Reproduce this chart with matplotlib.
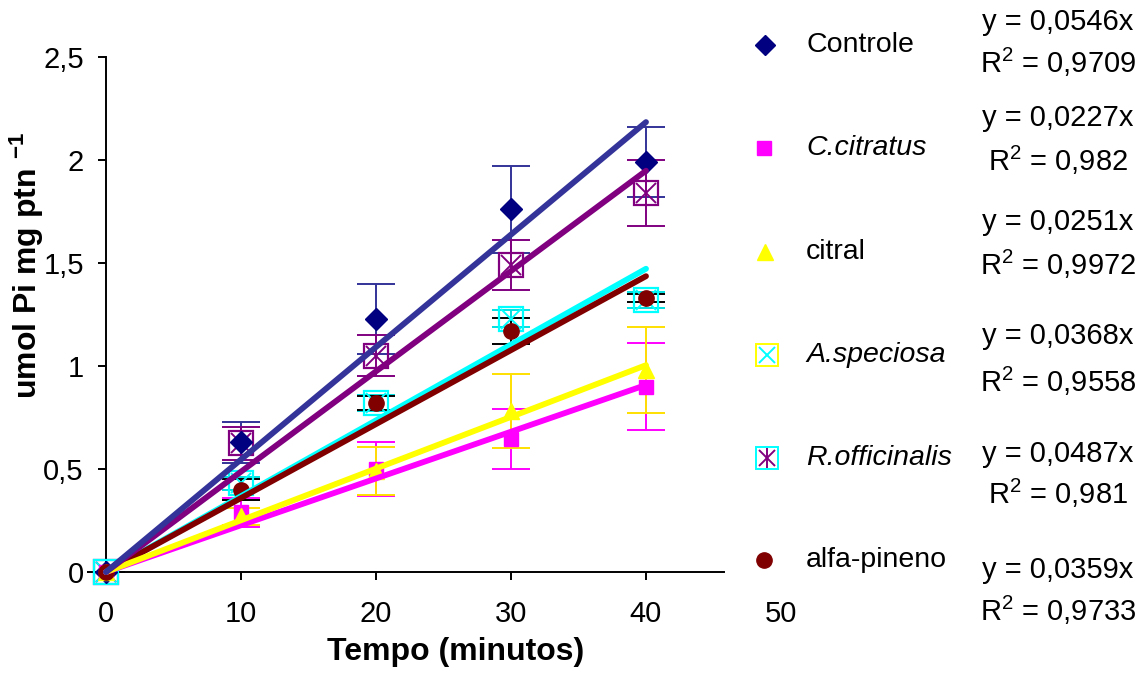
import numpy as np
import matplotlib
matplotlib.use("Agg")
import matplotlib.pyplot as plt

plt.rcParams["font.family"] = ["Liberation Sans", "DejaVu Sans"]
plt.rcParams["mathtext.fontset"] = "custom"
plt.rcParams["mathtext.rm"] = "Liberation Sans"
plt.rcParams["mathtext.it"] = "Liberation Sans:italic"
plt.rcParams["mathtext.bf"] = "Liberation Sans:bold"

# ---- data ----
tempo = [0, 10, 20, 30, 40]
names = ["Controle", "C.citratus", "citral", "A.speciosa", "R.officinalis", "alfa-pineno"]
italic = [False, True, False, True, True, False]
controle = [0, 0.63, 1.23, 1.76, 1.99]
controle_err = [0, 0.10, 0.17, 0.21, 0.17]
citratus = [0, 0.29, 0.50, 0.645, 0.90]
citratus_err = [0, 0.07, 0.13, 0.145, 0.21]
citral = [0, 0.27, 0.49, 0.78, 0.98]
citral_err = [0, 0.04, 0.115, 0.18, 0.21]
speciosa = [0, 0.43, 0.82, 1.23, 1.32]
speciosa_err = [0, 0.03, 0.04, 0.04, 0.04]
officinalis = [0, 0.625, 1.05, 1.49, 1.84]
officinalis_err = [0, 0.08, 0.10, 0.12, 0.16]
pineno = [0, 0.40, 0.82, 1.17, 1.33]
pineno_err = [0, 0.05, 0.035, 0.065, 0.02]
slopes = [0.0546, 0.0227, 0.0251, 0.0368, 0.0487, 0.0359]
slope_txt = ["0,0546", "0,0227", "0,0251", "0,0368", "0,0487", "0,0359"]
r2_txt = ["0,9709", "0,982", "0,9972", "0,9558", "0,981", "0,9733"]
yticks = [0, 0.5, 1, 1.5, 2, 2.5]
ytick_labels = ["0", "0,5", "1", "1,5", "2", "2,5"]
xticks = [0, 10, 20, 30, 40, 50]

series = [controle, citratus, citral, speciosa, officinalis, pineno]
errs = [controle_err, citratus_err, citral_err, speciosa_err, officinalis_err, pineno_err]
line_col = ["#333399", "#FF00FF", "#FFFF00", "#00FFFF", "#800080", "#800000"]
err_col = ["#333399", "#FF00FF", "#FFE000", "#00E0E0", "#800080", "#000000"]

W, H = 1146, 673
fig = plt.figure(figsize=(W / 100, H / 100), dpi=100)
ax = fig.add_axes([106 / W, 1 - 572 / H, (781 - 106) / W, (572 - 57) / H])
ax.set_xlim(0, 50)
ax.set_ylim(0, 2.5)

x = np.array(tempo)
# error bars + markers
for i, (ys, e) in enumerate(zip(series, errs)):
    ax.errorbar(x, ys, yerr=e, fmt="none", ecolor=err_col[i], elinewidth=1.4,
                capsize=14, capthick=1.4, zorder=2, clip_on=False)

mk = dict(linestyle="none", clip_on=False, zorder=3)
ax.plot(x, officinalis, marker="s", ms=17, mfc="none", mec="#800080", mew=1.6, **mk)
ax.plot(x, officinalis, marker="x", ms=14, mec="#800080", mew=1.4, **mk)
ax.plot(x, speciosa, marker="s", ms=17, mfc="none", mec="#00FFFF", mew=1.6, **mk)
ax.plot(x, speciosa, marker="x", ms=14, mec="#00FFFF", mew=1.4, **mk)
ax.plot(x, controle, marker="D", ms=11, mfc="#000080", mec="#000080", **mk)
ax.plot(x, citratus, marker="s", ms=10, mfc="#FF00FF", mec="#FF00FF", **mk)
ax.plot(x, citral, marker="^", ms=12, mfc="#FFFF00", mec="#FFFF00", **mk)
ax.plot(x, pineno, marker="o", ms=11, mfc="#800000", mec="#800000", **mk)

# linear trend lines through the origin
xf = np.array([0, 40])
for i in [3, 5, 1, 2, 4, 0]:
    ax.plot(xf, slopes[i] * xf, color=line_col[i], lw=4.2, solid_capstyle="round",
            zorder=4, clip_on=False)

for s in ["top", "right"]:
    ax.spines[s].set_visible(False)
ax.spines["left"].set_linewidth(1.4)
ax.spines["bottom"].set_linewidth(1.4)
ax.spines["bottom"].set_bounds(0, 45.8)
ax.set_yticks(yticks)
ax.set_yticklabels(ytick_labels)
ax.set_xticks(xticks)
ax.set_xticklabels([str(t) for t in xticks])
ax.tick_params(axis="y", direction="out", length=6, width=1.4, pad=10, labelsize=21)
ax.tick_params(axis="x", direction="out", length=6, width=1.4, pad=14, labelsize=21)
ax.xaxis.get_major_ticks()[-1].tick1line.set_visible(False)

fig.text(456 / W, 1 - 652 / H, "Tempo (minutos)", ha="center", va="center",
         fontsize=23, fontweight="bold")
fig.text(27 / W, 1 - 265 / H, r"umol Pi mg ptn $^{\mathbf{-1}}$", ha="center", va="center",
         rotation=90, fontsize=23, fontweight="bold")

# legend column with trend-line equations
lax = fig.add_axes([0, 0, 1, 1])
lax.set_xlim(0, W)
lax.set_ylim(H, 0)
lax.axis("off")
leg_y = [45, 148, 252, 355, 458, 560]
eq_y = [22, 118, 222, 336, 454, 570]
r2_y = [62, 160, 264, 381, 493, 610]
lm = dict(linestyle="none", clip_on=False)
lax.plot(765, leg_y[0], marker="D", ms=10, mfc="#000080", mec="#000080", **lm)
lax.plot(764, leg_y[1], marker="s", ms=10, mfc="#FF00FF", mec="#FF00FF", **lm)
lax.plot(765, leg_y[2], marker="^", ms=12, mfc="#FFFF00", mec="#FFFF00", **lm)
lax.plot(767, leg_y[3], marker="s", ms=16, mfc="none", mec="#FFFF00", mew=1.4, **lm)
lax.plot(767, leg_y[3], marker="x", ms=12, mec="#00FFFF", mew=1.4, **lm)
lax.plot(767, leg_y[4], marker="s", ms=16, mfc="none", mec="#00FFFF", mew=1.4, **lm)
lax.plot(767, leg_y[4], marker="x", ms=12, mec="#800080", mew=1.4, **lm)
lax.plot(767, leg_y[4], marker="|", ms=14, mec="#800080", mew=1.4, **lm)
lax.plot(764, leg_y[5], marker="o", ms=11, mfc="#800000", mec="#800000", **lm)
for i, nm in enumerate(names):
    lax.text(806, leg_y[i], nm, ha="left", va="center", fontsize=20.5,
             style="italic" if italic[i] else "normal")
    lax.text(1058, eq_y[i], "y = " + slope_txt[i] + "x", ha="center", va="center", fontsize=21)
    lax.text(1058, r2_y[i], "R$^{2}$ = " + r2_txt[i], ha="center", va="center", fontsize=21)

fig.savefig("out.png", dpi=100)
